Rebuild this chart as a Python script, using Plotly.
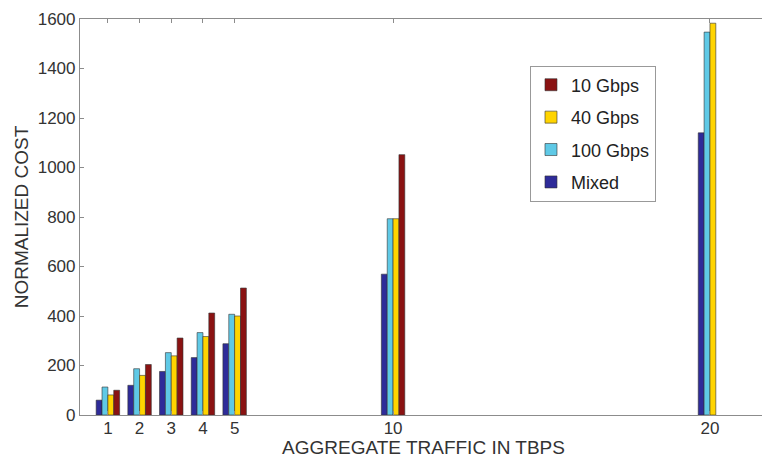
import plotly.graph_objects as go

traffic = [1, 2, 3, 4, 5, 10, 20]
cost_mixed = [60, 120, 176, 232, 288, 569, 1140]
cost_100g = [113, 187, 252, 333, 407, 793, 1547]
cost_40g = [81, 160, 239, 317, 400, 793, 1583]
cost_10g = [100, 204, 311, 412, 513, 1052, None]

series_names = ["Mixed", "100 Gbps", "40 Gbps", "10 Gbps"]
series_values = [cost_mixed, cost_100g, cost_40g, cost_10g]
series_colors = ["#2E2B99", "#5FC9E6", "#FFD400", "#8A1212"]
legend_ranks = [4, 3, 2, 1]

x_ticks = [1, 2, 3, 4, 5, 10, 20]
y_ticks = [0, 200, 400, 600, 800, 1000, 1200, 1400, 1600]

fig = go.Figure()
for name, vals, col, rank in zip(series_names, series_values, series_colors, legend_ranks):
    fig.add_trace(go.Bar(
        x=traffic, y=vals, name=name, legendgroup=name, legendrank=rank,
        marker=dict(color=col, line=dict(color="#333333", width=0.6)),
    ))

font_family = "Liberation Sans, Arial, sans-serif"
axis_common = dict(
    showline=True, linecolor="#8c8c8c", linewidth=1.2, mirror="ticks",
    ticks="inside", ticklen=4, tickcolor="#8c8c8c", showgrid=False, zeroline=False,
    ticklabeloverflow="allow",
    tickfont=dict(family=font_family, size=17, color="#333333"),
)

fig.update_layout(
    width=762, height=451,
    margin=dict(l=72, r=2, t=7, b=44),
    paper_bgcolor="white", plot_bgcolor="white",
    barmode="group", bargap=0.26, bargroupgap=0,
    xaxis=dict(range=[0.12, 21.8], tickvals=x_ticks, ticklabelstandoff=-3,
               title=dict(text="AGGREGATE TRAFFIC IN TBPS", standoff=0,
                          font=dict(family=font_family, size=19, color="#333333")),
               **axis_common),
    yaxis=dict(range=[0, 1600], tickvals=y_ticks,
               title=dict(text="NORMALIZED COST", standoff=4,
                          font=dict(family=font_family, size=19, color="#333333")),
               **axis_common),
    legend=dict(x=0.655, y=0.8825, xanchor="left", yanchor="top",
                traceorder="grouped", bordercolor="#999999", borderwidth=1,
                bgcolor="white", font=dict(family=font_family, size=18, color="#222222"),
                itemwidth=30, tracegroupgap=6),
    showlegend=True,
)

fig.write_html("out.html")
